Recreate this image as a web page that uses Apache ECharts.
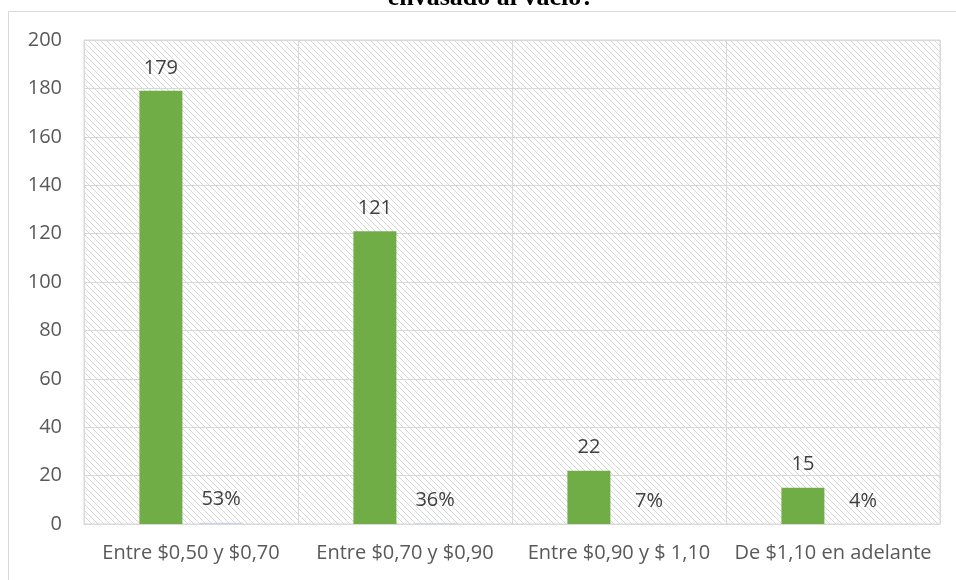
<!DOCTYPE html>
<html>
<head>
<meta charset="utf-8">
<script src="https://cdn.jsdelivr.net/npm/echarts@6/dist/echarts.min.js"></script>
<style>html,body{margin:0;padding:0;background:#fff}#c{width:956px;height:580px}</style>
</head>
<body>
<div id="c"></div>
<script>
const titleText = 'envasado al vacío?';
const categories = ['Entre $0,50 y $0,70', 'Entre $0,70 y $0,90', 'Entre $0,90 y $ 1,10', 'De $1,10 en adelante'];
const counts = [179, 121, 22, 15];
const percents = [0.53, 0.36, 0.07, 0.04];
const yTicks = {min: 0, max: 200, interval: 20};

// hatch pattern for plot background
const pc = document.createElement('canvas');
pc.width = 6; pc.height = 6;
const px = pc.getContext('2d');
px.fillStyle = '#ffffff'; px.fillRect(0, 0, 6, 6);
px.strokeStyle = '#d6d6d6'; px.lineWidth = 1;
px.beginPath();
px.moveTo(-1, -1); px.lineTo(7, 7);
px.moveTo(-1, 5); px.lineTo(1, 7);
px.moveTo(5, -1); px.lineTo(7, 1);
px.stroke();

const FONT = 'Open Sans';
const chart = echarts.init(document.getElementById('c'), null, {renderer: 'canvas'});
chart.setOption({
  animation: false,
  backgroundColor: '#ffffff',
  title: {
    text: titleText, left: 486, top: -20, textAlign: 'center',
    textStyle: {fontFamily: 'Liberation Serif', fontWeight: 'bold', fontSize: 26, color: '#000'}
  },
  graphic: [{
    type: 'rect', shape: {x: 8.5, y: 11.5, width: 960, height: 600},
    style: {fill: null, stroke: '#d9d9d9', lineWidth: 1}, silent: true, z: -10
  }],
  grid: {
    left: 84, right: 16, top: 40, bottom: 56, show: true,
    backgroundColor: {image: pc, repeat: 'repeat'}, borderColor: '#d9d9d9', borderWidth: 1
  },
  xAxis: {
    type: 'category', data: categories,
    axisLine: {show: true, lineStyle: {color: '#d9d9d9'}},
    axisTick: {show: false},
    splitLine: {show: true, lineStyle: {color: '#d9d9d9', width: 1}},
    axisLabel: {color: '#595959', fontFamily: FONT, fontSize: 20, margin: 19, interval: 0}
  },
  yAxis: {
    type: 'value', min: yTicks.min, max: yTicks.max, interval: yTicks.interval,
    axisLine: {show: false}, axisTick: {show: false},
    splitLine: {lineStyle: {color: '#d9d9d9', width: 1}},
    axisLabel: {color: '#595959', fontFamily: FONT, fontSize: 20, margin: 22}
  },
  series: [{
    type: 'bar', data: counts, barWidth: 43, barGap: '40%',
    itemStyle: {color: '#70ad47'},
    label: {show: true, position: 'top', distance: 13, color: '#404040', fontFamily: FONT, fontSize: 20}
  }, {
    type: 'bar', data: percents, barWidth: 43,
    itemStyle: {color: '#c9d6ea'},
    label: {show: true, position: 'top', distance: 13, color: '#404040', fontFamily: FONT, fontSize: 20,
      formatter: p => Math.round(p.value * 100) + '%'}
  }]
});
</script>
</body>
</html>
